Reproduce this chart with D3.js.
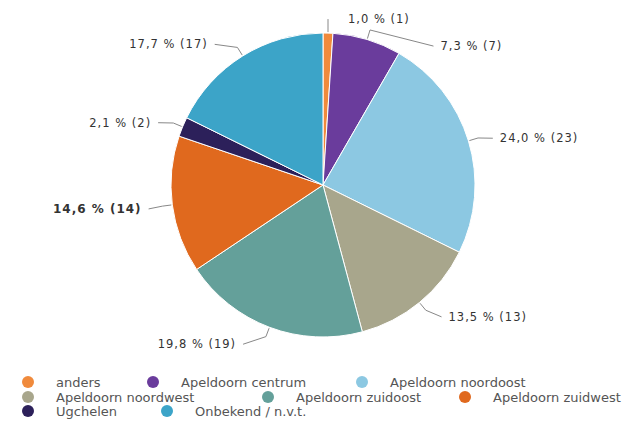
<!DOCTYPE html>
<html lang="nl">
<head>
    <meta charset="UTF-8">
    <title>Wijk</title>
    <script src="https://d3js.org/d3.v7.min.js"></script>
    <style>
        body { margin: 0; background: #fff; }
        text { font-family: "DejaVu Sans", sans-serif; }
        .lbl { font-size: 11.5px; fill: #333; letter-spacing: 1px; }
        .legend text { font-size: 13px; fill: #555; }
    </style>
</head>
<body>
    <script>
        // data
        var categories = ["anders", "Apeldoorn centrum", "Apeldoorn noordoost", "Apeldoorn noordwest",
            "Apeldoorn zuidoost", "Apeldoorn zuidwest", "Ugchelen", "Onbekend / n.v.t."];
        var counts = [1, 7, 23, 13, 19, 14, 2, 17];
        var colors = ["#f08a3c", "#6a3c9c", "#8cc8e2", "#a8a68c", "#64a09a", "#e0691e", "#2c205a", "#3ca4c8"];

        var width = 641, height = 427;
        var cx = 323, cy = 185, r = 152;

        var svg = d3.select("body").append("svg")
            .attr("width", width)
            .attr("height", height);

        var total = d3.sum(counts);
        var fmt = function (v) { return d3.format(".1f")(v * 100 / total).replace(".", ","); };

        var pie = d3.pie().sort(null).value(function (d) { return d; });
        var arcs = pie(counts);
        var arc = d3.arc().innerRadius(0).outerRadius(r);

        var g = svg.append("g").attr("transform", "translate(" + cx + "," + cy + ")");

        g.selectAll("path.slice")
            .data(arcs)
            .enter().append("path")
            .attr("class", "slice")
            .attr("d", arc)
            .attr("fill", function (d, i) { return colors[i]; })
            .attr("stroke", "#fff")
            .attr("stroke-width", 1);

        // labels, placed round the pie roughly like highcharts does
        var Ry = 168, Rc = 180;
        var labels = arcs.map(function (d, i) {
            var a = (d.startAngle + d.endAngle) / 2;
            return { i: i, a: a, right: Math.sin(a) >= 0, y: -Ry * Math.cos(a) + 2 };
        });
        var right = labels.filter(function (l) { return l.right; }).sort(function (a, b) { return a.y - b.y; });
        var left = labels.filter(function (l) { return !l.right; }).sort(function (a, b) { return a.y - b.y; });
        [right, left].forEach(function (side) {
            var prev = -cy + 16 - 27;
            side.forEach(function (l) {
                if (l.y < prev + 27) l.y = prev + 27;
                prev = l.y;
            });
        });
        labels.forEach(function (l) {
            var dy = Math.max(-Rc + 1, Math.min(Rc - 1, l.y));
            var dx = Math.sqrt(Rc * Rc - dy * dy);
            l.x = l.right ? dx : -dx;
            if (Math.abs(Math.sin(l.a)) < 0.1) l.x = l.right ? 22 : -22;
        });

        g.selectAll("path.conn")
            .data(labels)
            .enter().append("path")
            .attr("class", "conn")
            .attr("fill", "none")
            .attr("stroke", "#888")
            .attr("stroke-width", 1)
            .attr("d", function (l) {
                var p0 = [Math.sin(l.a) * (r + 1), -Math.cos(l.a) * (r + 1)];
                var p1 = [Math.sin(l.a) * (r + 10), -Math.cos(l.a) * (r + 10)];
                var p2 = [l.x + (l.right ? -4 : 4), l.y];
                if (Math.abs(Math.sin(l.a)) < 0.1) { p1 = [p0[0], l.y]; p2 = p1; }
                return "M" + p0 + "L" + p1 + "L" + p2;
            });

        g.selectAll("text.lbl")
            .data(labels)
            .enter().append("text")
            .attr("class", "lbl")
            .attr("x", function (l) { return l.x + (l.right ? 3 : -3); })
            .attr("y", function (l) { return l.y; })
            .attr("dy", "0.35em")
            .attr("text-anchor", function (l) { return l.right ? "start" : "end"; })
            .style("font-weight", function (l) { return l.i === 5 ? "bold" : null; })
            .style("font-size", function (l) { return l.i === 5 ? "12px" : null; })
            .text(function (l) { return fmt(counts[l.i]) + " % (" + counts[l.i] + ")"; });

        // legend
        var legendRows = [[0, 1, 2], [3, 4, 5], [6, 7]];
        var legendX = [[28, 153, 362], [28, 268, 465], [28, 167]];
        var legendY = [382, 397, 411];
        var legend = svg.append("g").attr("class", "legend");
        legendRows.forEach(function (row, ri) {
            row.forEach(function (ci, k) {
                var item = legend.append("g")
                    .attr("transform", "translate(" + legendX[ri][k] + "," + legendY[ri] + ")");
                item.append("circle")
                    .attr("r", 6)
                    .attr("fill", colors[ci]);
                item.append("text")
                    .attr("x", 28)
                    .attr("dy", "0.35em")
                    .text(categories[ci]);
            });
        });
    </script>
</body>
</html>
